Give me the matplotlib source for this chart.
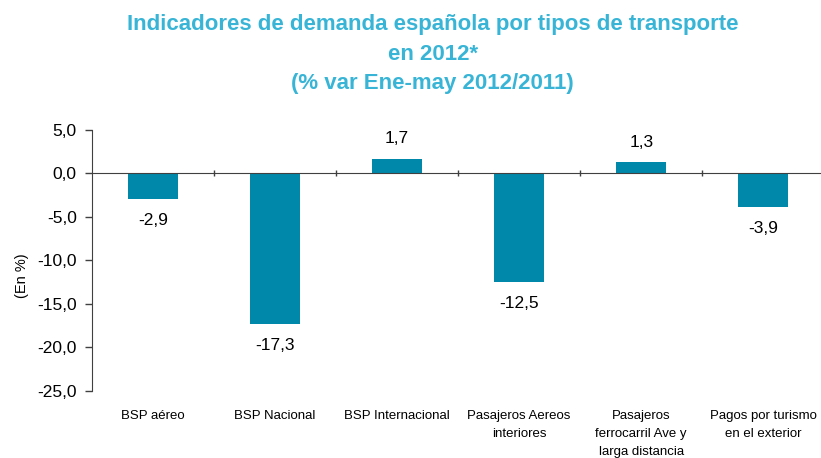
"""
Indicadores de demanda española por tipos de transporte (bar chart).
"""
import matplotlib
matplotlib.use('Agg')
import matplotlib.pyplot as plt
import matplotlib.transforms as mtransforms
from matplotlib.ticker import FuncFormatter

CATEGORIES = ['BSP aéreo', 'BSP Nacional', 'BSP Internacional',
              'Pasajeros Aereos\ninteriores',
              'Pasajeros\nferrocarril Ave y\nlarga distancia',
              'Pagos por turismo\nen el exterior']
VALUES = [-2.9, -17.3, 1.7, -12.5, 1.3, -3.9]
Y_TICKS = [5, 0, -5, -10, -15, -20, -25]

TITLE = ('Indicadores de demanda española por tipos de transporte\n'
         'en 2012*\n(% var Ene-may 2012/2011)')
BAR_COLOR = '#0088AA'
TITLE_COLOR = '#38B5D6'
AXIS_COLOR = '#404040'

plt.rcParams['font.family'] = ['Liberation Sans', 'DejaVu Sans']


def comma(v, pos=None):
    return f"{v:.1f}".replace('.', ',')


def plot_chart(output_filename):
    fig = plt.figure(figsize=(8.21, 4.58), dpi=100)
    ax = fig.add_axes([0.112, 0.1463, 0.892, 0.5699])

    x = list(range(len(VALUES)))
    ax.bar(x, VALUES, width=0.41, color=BAR_COLOR, zorder=2)

    ax.set_xlim(-0.5, len(VALUES) - 0.5)
    ax.set_ylim(-25, 5)
    ax.set_yticks(Y_TICKS)
    ax.yaxis.set_major_formatter(FuncFormatter(comma))
    ax.tick_params(axis='y', direction='out', length=5, width=1,
                   color=AXIS_COLOR, labelsize=12.5, pad=6)

    for side in ('top', 'right'):
        ax.spines[side].set_visible(False)
    ax.spines['left'].set_color(AXIS_COLOR)
    ax.spines['bottom'].set_position(('data', 0))
    ax.spines['bottom'].set_color(AXIS_COLOR)
    ax.set_xticks([i + 0.5 for i in range(len(VALUES) - 1)])
    ax.set_xticklabels([])
    ax.tick_params(axis='x', direction='inout', length=5, width=1,
                   color=AXIS_COLOR)

    # value labels
    for xi, v in zip(x, VALUES):
        if v < 0:
            ax.annotate(comma(v), (xi, v), xytext=(0, -10),
                        textcoords='offset points', ha='center', va='top',
                        fontsize=12.5)
        else:
            ax.annotate(comma(v), (xi, v), xytext=(0, 9),
                        textcoords='offset points', ha='center',
                        va='bottom', fontsize=12.5)

    # category labels under the plot area
    trans = mtransforms.blended_transform_factory(ax.transData, ax.transAxes)
    for xi, label in zip(x, CATEGORIES):
        ax.text(xi, -0.072, label, transform=trans, ha='center', va='top',
                fontsize=9.5, linespacing=1.7,
                family=['Liberation Sans Narrow', 'Liberation Sans'])

    ax.set_ylabel('(En %)', fontsize=10.5)
    ax.yaxis.set_label_coords(-0.086, 0.44)

    fig.text(0.527, 0.97, TITLE, ha='center', va='top', fontsize=16,
             fontweight='bold', color=TITLE_COLOR, linespacing=1.55)

    fig.savefig(output_filename, dpi=100)


if __name__ == "__main__":
    plot_chart('out.png')
